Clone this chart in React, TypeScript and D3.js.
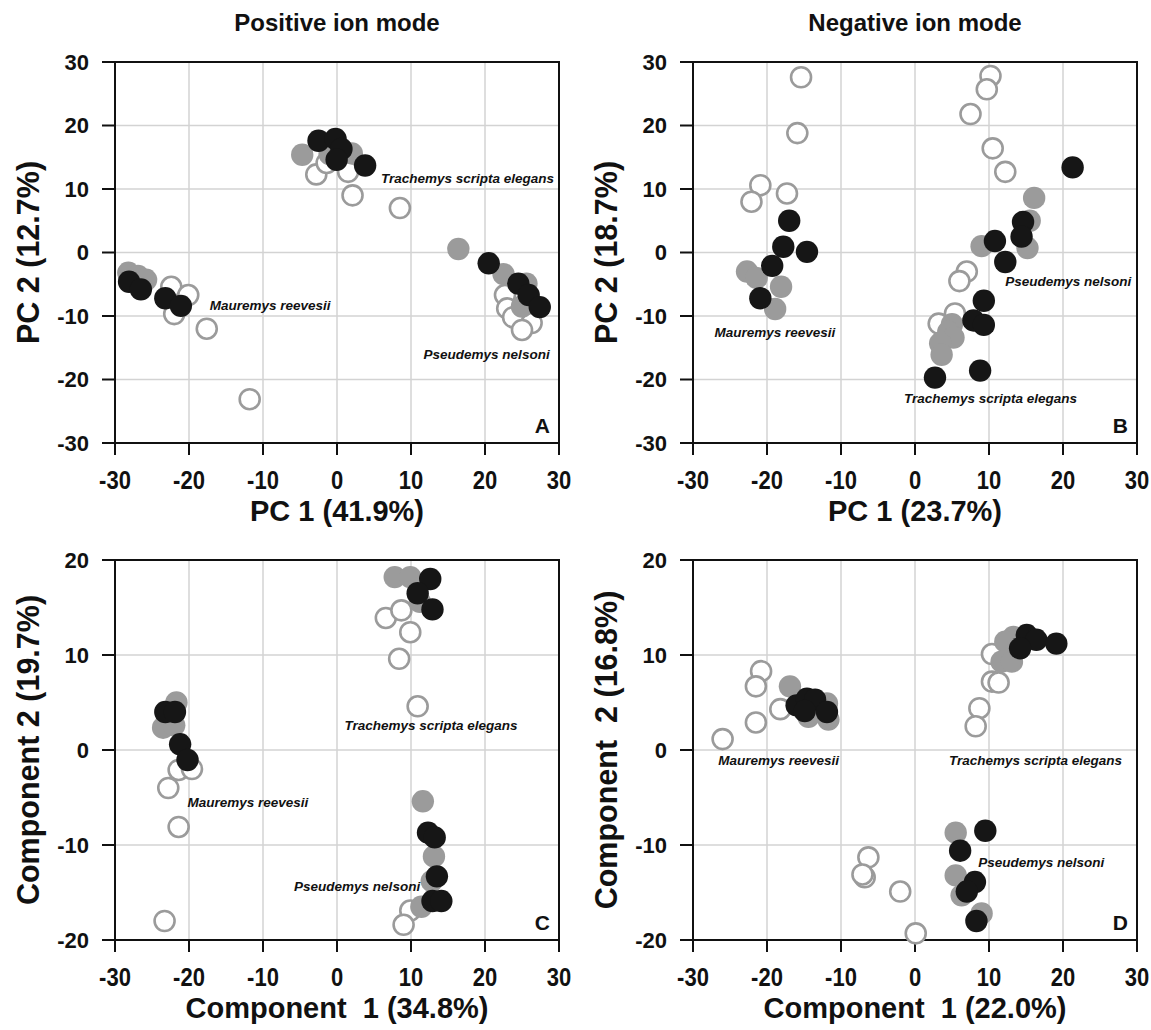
import React from "react";
import * as d3 from "d3";

// ---------- Data ----------
const xTicks = [-30, -20, -10, 0, 10, 20, 30];
const yTicksPCA = [-30, -20, -10, 0, 10, 20, 30];
const yTicksPLS = [-20, -10, 0, 10, 20];

const columnTitles = ["Positive ion mode", "Negative ion mode"];
const speciesNames = ["Mauremys reevesii", "Trachemys scripta elegans", "Pseudemys nelsoni"];

// Panel A — Positive ion mode, PCA
const posPCA_open: [number, number][] = [
  [-22.4, -5.4], [-20.1, -6.7], [-22.0, -9.7], [-17.6, -12.0], [-11.8, -23.1],
  [-2.8, 12.3], [-1.4, 14.1], [1.5, 12.7], [2.1, 9.0], [8.5, 7.0],
  [22.7, -6.7], [23.0, -8.8], [23.8, -10.2], [26.3, -11.1], [25.0, -12.2],
];
const posPCA_gray: [number, number][] = [
  [-28.2, -3.2], [-26.9, -3.7], [-25.8, -4.3],
  [-4.7, 15.4], [2.0, 15.6], [-1.0, 15.5],
  [16.4, 0.55], [22.5, -3.4], [25.6, -4.9], [25.0, -8.5],
];
const posPCA_black: [number, number][] = [
  [-28.1, -4.6], [-26.5, -5.8], [-23.2, -7.2], [-21.1, -8.4],
  [-2.5, 17.6], [-0.2, 17.9], [0.6, 16.3], [-0.05, 14.6], [3.8, 13.7],
  [20.5, -1.7], [24.5, -4.9], [25.9, -6.7], [27.4, -8.6],
];

// Panel B — Negative ion mode, PCA
const negPCA_open: [number, number][] = [
  [-15.4, 27.6], [-15.9, 18.8], [-20.9, 10.6], [-22.1, 8.0], [-17.3, 9.3],
  [10.2, 27.8], [9.7, 25.7], [7.5, 21.8], [10.5, 16.4], [12.2, 12.7],
  [7.0, -3.0], [6.0, -4.5], [5.4, -9.6], [3.2, -11.2],
];
const negPCA_gray: [number, number][] = [
  [-22.7, -3.0], [-21.4, -4.0], [-18.1, -5.4], [-18.9, -8.9],
  [16.1, 8.6], [15.5, 5.0], [15.2, 0.7], [9.0, 1.0],
  [5.0, -11.3], [4.5, -12.5], [5.2, -13.4], [3.4, -14.3], [3.6, -16.1],
];
const negPCA_black: [number, number][] = [
  [-17.0, 5.0], [-17.8, 0.9], [-14.6, 0.1], [-19.3, -2.1], [-20.9, -7.2],
  [21.3, 13.4], [14.6, 4.8], [14.4, 2.5], [10.8, 1.8], [12.2, -1.5],
  [9.3, -7.6], [7.9, -10.7], [9.3, -11.4], [8.8, -18.6], [2.7, -19.7],
];

// Panel C — Positive ion mode, PLS
const posPLS_open: [number, number][] = [
  [-21.4, -2.1], [-19.6, -2.0], [-22.8, -4.0], [-21.4, -8.1], [-23.3, -18.0],
  [6.6, 13.9], [8.7, 14.7], [9.9, 12.4], [8.4, 9.6], [10.9, 4.6],
  [9.9, -16.9], [9.0, -18.4],
];
const posPLS_gray: [number, number][] = [
  [-21.7, 5.0], [-23.5, 2.35], [-22.0, 2.6],
  [7.8, 18.2], [9.9, 18.2], [11.2, 15.6],
  [11.6, -5.4], [13.1, -11.2], [12.8, -13.8], [11.4, -16.5],
];
const posPLS_black: [number, number][] = [
  [-23.2, 4.0], [-21.9, 4.0], [-21.2, 0.6], [-20.2, -1.05],
  [12.6, 18.0], [10.9, 16.5], [12.9, 14.8],
  [12.3, -8.7], [13.2, -9.2], [13.5, -13.3], [12.9, -15.9], [14.1, -15.9],
];

// Panel D — Negative ion mode, PLS
const negPLS_open: [number, number][] = [
  [-26.0, 1.15], [-20.8, 8.3], [-21.5, 6.7], [-21.5, 2.9], [-18.2, 4.3],
  [10.4, 10.1], [10.4, 7.2], [11.3, 7.1], [8.7, 4.4], [8.2, 2.5],
  [-6.3, -11.3], [-6.8, -13.4], [-7.1, -13.1], [-2.0, -14.9], [0.1, -19.3],
];
const negPLS_gray: [number, number][] = [
  [-16.9, 6.7], [-14.4, 3.5], [-11.7, 3.2], [-11.9, 4.9],
  [13.3, 11.9], [12.2, 11.4], [11.7, 9.3], [13.1, 9.3],
  [5.5, -8.7], [5.5, -13.2], [6.3, -15.3], [9.0, -17.2],
];
const negPLS_black: [number, number][] = [
  [-16.0, 4.7], [-14.6, 5.4], [-13.5, 5.3], [-14.9, 4.1], [-11.9, 4.0],
  [15.1, 12.1], [16.4, 11.6], [19.1, 11.2], [14.2, 10.7],
  [9.5, -8.5], [6.1, -10.6], [8.1, -13.9], [7.0, -14.9], [8.3, -18.0],
];

// species label anchors (data coordinates, text start)
const labelsA: [number, number][] = [[-17.2, -9.0], [5.95, 10.9], [11.7, -16.7]];
const labelsB: [number, number][] = [[-27.1, -13.3], [-1.5, -23.75], [12.2, -5.2]];
const labelsC: [number, number][] = [[-20.2, -6.0], [1.0, 2.1], [-5.8, -14.8]];
const labelsD: [number, number][] = [[-26.6, -1.6], [4.6, -1.6], [8.55, -12.35]];

// ---------- Layout ----------
const FONT = "'Liberation Sans', Arial, Helvetica, sans-serif";
const COLS = [115, 693];
const PW = 444;
const ROWS = [
  { top: 62, bottom: 443, titleOffset: 78 },
  { top: 560, bottom: 940, titleOffset: 78 },
];

type PanelDef = {
  col: number;
  row: number;
  yDomain: [number, number];
  yTicks: number[];
  xLabel: string;
  yLabel: string;
  letter: string;
  open: [number, number][];
  gray: [number, number][];
  black: [number, number][];
  labels: [number, number][];
};

const panels: PanelDef[] = [
  { col: 0, row: 0, yDomain: [-30, 30], yTicks: yTicksPCA, xLabel: "PC 1 (41.9%)", yLabel: "PC 2 (12.7%)", letter: "A", open: posPCA_open, gray: posPCA_gray, black: posPCA_black, labels: labelsA },
  { col: 1, row: 0, yDomain: [-30, 30], yTicks: yTicksPCA, xLabel: "PC 1 (23.7%)", yLabel: "PC 2 (18.7%)", letter: "B", open: negPCA_open, gray: negPCA_gray, black: negPCA_black, labels: labelsB },
  { col: 0, row: 1, yDomain: [-20, 20], yTicks: yTicksPLS, xLabel: "Component  1 (34.8%)", yLabel: "Component 2 (19.7%)", letter: "C", open: posPLS_open, gray: posPLS_gray, black: posPLS_black, labels: labelsC },
  { col: 1, row: 1, yDomain: [-20, 20], yTicks: yTicksPLS, xLabel: "Component  1 (22.0%)", yLabel: "Component  2 (16.8%)", letter: "D", open: negPLS_open, gray: negPLS_gray, black: negPLS_black, labels: labelsD },
];

function Panel({ p }: { p: PanelDef }) {
  const left = COLS[p.col];
  const right = left + PW;
  const { top, bottom, titleOffset } = ROWS[p.row];
  const x = d3.scaleLinear().domain([-30, 30]).range([left, right]);
  const y = d3.scaleLinear().domain(p.yDomain).range([bottom, top]);
  const cx = (left + right) / 2;
  const cy = (top + bottom) / 2;
  const gridColor = "#d3d3d3";
  return (
    <g>
      {xTicks.slice(1, -1).map((t) => (
        <line key={"gx" + t} x1={x(t)} x2={x(t)} y1={top} y2={bottom} stroke={gridColor} strokeWidth={1.5} />
      ))}
      {p.yTicks.slice(1, -1).map((t) => (
        <line key={"gy" + t} x1={left} x2={right} y1={y(t)} y2={y(t)} stroke={gridColor} strokeWidth={1.5} />
      ))}
      <rect x={left} y={top} width={right - left} height={bottom - top} fill="none" stroke="#111" strokeWidth={2} />
      {xTicks.map((t) => (
        <g key={"xt" + t}>
          <line x1={x(t)} x2={x(t)} y1={bottom} y2={bottom + 12} stroke="#111" strokeWidth={2} />
          <text
            transform={`translate(${x(t)},${bottom + 46}) scale(1,1.15)`}
            textAnchor="middle"
            fontFamily={FONT}
            fontWeight="bold"
            fontSize={22}
            fill="#111"
          >
            {t}
          </text>
        </g>
      ))}
      {p.yTicks.map((t) => (
        <g key={"yt" + t}>
          <line x1={left - 13} x2={left} y1={y(t)} y2={y(t)} stroke="#111" strokeWidth={2} />
          <text x={left - 26} y={y(t)} dy="0.36em" textAnchor="end" fontFamily={FONT} fontWeight="bold" fontSize={22} fill="#111">
            {t}
          </text>
        </g>
      ))}
      <text x={cx} y={bottom + titleOffset} textAnchor="middle" fontFamily={FONT} fontWeight="bold" fontSize={29} fill="#111" style={{ whiteSpace: "pre" }}>
        {p.xLabel}
      </text>
      <text
        transform={`translate(${left - 76},${cy}) rotate(-90)`}
        textAnchor="middle"
        fontFamily={FONT}
        fontWeight="bold"
        fontSize={30.5}
        fill="#111"
        style={{ whiteSpace: "pre" }}
      >
        {p.yLabel}
      </text>
      {p.open.map((d, i) => (
        <circle key={"o" + i} cx={x(d[0])} cy={y(d[1])} r={10} fill="#fff" stroke="#9b9b9b" strokeWidth={2.6} />
      ))}
      {p.gray.map((d, i) => (
        <circle key={"g" + i} cx={x(d[0])} cy={y(d[1])} r={11.2} fill="#9b9b9b" />
      ))}
      {p.black.map((d, i) => (
        <circle key={"b" + i} cx={x(d[0])} cy={y(d[1])} r={11.2} fill="#161616" />
      ))}
      {p.labels.map((d, i) => (
        <text key={"s" + i} x={x(d[0])} y={y(d[1])} fontFamily={FONT} fontWeight="bold" fontStyle="italic" fontSize={13.5} fill="#111">
          {speciesNames[i]}
        </text>
      ))}
      <text x={right - 9} y={bottom - 10} textAnchor="end" fontFamily={FONT} fontWeight="bold" fontSize={21} fill="#111">
        {p.letter}
      </text>
    </g>
  );
}

export default function App() {
  return (
    <svg
      width={1151}
      height={1030}
      viewBox="0 0 1151 1030"
      style={{ position: "absolute", left: 0, top: 0, background: "#fff" }}
    >
      <rect x={0} y={0} width={1151} height={1030} fill="#fff" />
      {columnTitles.map((t, i) => (
        <text key={t} x={COLS[i] + PW / 2} y={31} textAnchor="middle" fontFamily={FONT} fontWeight="bold" fontSize={24} fill="#111">
          {t}
        </text>
      ))}
      {panels.map((p) => (
        <Panel key={p.letter} p={p} />
      ))}
    </svg>
  );
}
